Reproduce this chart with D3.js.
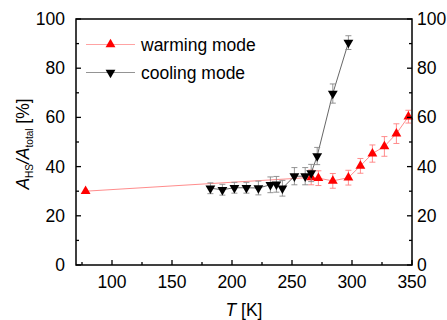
<!DOCTYPE html>
<html>
<head>
<meta charset="utf-8">
<script src="https://cdn.jsdelivr.net/npm/d3@7"></script>
<style>
  body { margin: 0; background: #fff; }
  text { font-family: "Liberation Sans", Arial, sans-serif; }
</style>
</head>
<body>
<svg class="chart"></svg>
<script>
// warming mode (red, up triangles)
var warmT   = [78, 266, 272, 284, 297, 307, 317, 327, 337, 347];
var warmVal = [30, 35.6, 35.3, 34.2, 35.5, 40.3, 45.3, 48.2, 53.4, 60.3];
var warmErr = [0.8, 3, 3, 3, 3, 3, 3.5, 4, 4, 2.6];

// cooling mode (black, down triangles)
var coolT   = [182, 192, 202, 212, 222, 232, 237, 242, 252, 261, 266, 271, 284, 297];
var coolVal = [31.2, 30.6, 31.4, 31.4, 31.3, 32.6, 32.8, 31.2, 36.1, 36.1, 37.4, 44.3, 69.7, 90.4];
var coolErr = [2.2, 2.2, 2.2, 2.2, 2.8, 3.2, 3.2, 3.2, 3.5, 3.5, 3.5, 3.5, 3.9, 2.8];

var xTicks = [100, 150, 200, 250, 300, 350];
var xMinor = [75, 125, 175, 225, 275, 325];
var yTicks = [0, 20, 40, 60, 80, 100];
var yMinor = [10, 30, 50, 70, 90];

var legendNames = ["warming mode", "cooling mode"];

var W = 447, H = 320;
var margin = {left: 76, right: 35, top: 19, bottom: 55};

var x = d3.scaleLinear().domain([70, 350]).range([margin.left, W - margin.right]);
var y = d3.scaleLinear().domain([0, 100]).range([H - margin.bottom, margin.top]);

var svg = d3.select(".chart").attr("width", W).attr("height", H);

function mk(t, v, e) {
  return t.map(function(d, i) { return {t: d, v: v[i], e: e[i]}; });
}
var warm = mk(warmT, warmVal, warmErr);
var cool = mk(coolT, coolVal, coolErr);

var line = d3.line().x(function(d) { return x(d.t); }).y(function(d) { return y(d.v); });

var tri = d3.symbol().type(d3.symbolTriangle).size(42);

// draw one series: line, error bars, markers
function series(data, lineCol, errCol, fill, down) {
  var g = svg.append("g");
  g.append("path").datum(data)
      .attr("d", line)
      .attr("fill", "none")
      .attr("stroke", lineCol)
      .attr("stroke-width", 0.9);

  var eb = g.selectAll(".eb").data(data.filter(function(d) { return d.e > 1; }))
      .enter().append("g")
      .attr("stroke", errCol).attr("stroke-width", 0.9);
  eb.append("line")
      .attr("x1", function(d) { return x(d.t); }).attr("x2", function(d) { return x(d.t); })
      .attr("y1", function(d) { return y(d.v + d.e); }).attr("y2", function(d) { return y(d.v - d.e); });
  [1, -1].forEach(function(s) {
    eb.append("line")
        .attr("x1", function(d) { return x(d.t) - 3; }).attr("x2", function(d) { return x(d.t) + 3; })
        .attr("y1", function(d) { return y(d.v + s * d.e); }).attr("y2", function(d) { return y(d.v + s * d.e); });
  });

  g.selectAll(".m").data(data).enter().append("path")
      .attr("d", tri)
      .attr("fill", fill)
      .attr("transform", function(d) {
        return "translate(" + x(d.t) + "," + y(d.v) + ")" + (down ? " rotate(180)" : "");
      });
}

series(warm, "#ff7f7f", "#ff8080", "#ff0000", false);
series(cool, "#555555", "#888888", "#000000", true);

// axes (ticks pointing inward)
var axG = svg.append("g").attr("fill", "none").attr("stroke", "#000");
function ticks(vals, len, side) {
  vals.forEach(function(v) {
    if (side === "bottom") axG.append("line").attr("x1", x(v)).attr("x2", x(v)).attr("y1", y(0)).attr("y2", y(0) - len);
    if (side === "left") axG.append("line").attr("x1", x(70)).attr("x2", x(70) + len).attr("y1", y(v)).attr("y2", y(v));
    if (side === "right") axG.append("line").attr("x1", x(350)).attr("x2", x(350) - len).attr("y1", y(v)).attr("y2", y(v));
  });
}
ticks(xTicks, 5, "bottom"); ticks(xMinor, 3, "bottom");
ticks(yTicks, 5, "left"); ticks(yMinor, 3, "left");
ticks(yTicks, 5, "right"); ticks(yMinor, 3, "right");
axG.selectAll("line").attr("stroke-width", 1.3);

svg.append("rect")
    .attr("x", x(70)).attr("y", y(100))
    .attr("width", x(350) - x(70)).attr("height", y(0) - y(100))
    .attr("fill", "none").attr("stroke", "#000").attr("stroke-width", 1.5);

var fs = "17.5px";
svg.selectAll(".xl").data(xTicks).enter().append("text")
    .attr("x", function(d) { return x(d); }).attr("y", y(0) + 23)
    .attr("text-anchor", "middle").style("font-size", fs).text(function(d) { return d; });
svg.selectAll(".yl").data(yTicks).enter().append("text")
    .attr("x", x(70) - 11).attr("y", function(d) { return y(d) + 6; })
    .attr("text-anchor", "end").style("font-size", fs).text(function(d) { return d; });
svg.selectAll(".yr").data(yTicks).enter().append("text")
    .attr("x", x(350) + 5).attr("y", function(d) { return y(d) + 6; })
    .attr("text-anchor", "start").style("font-size", fs).text(function(d) { return d; });

// axis titles
var xt = svg.append("text").attr("x", (x(70) + x(350)) / 2).attr("y", 316)
    .attr("text-anchor", "middle").style("font-size", fs);
xt.append("tspan").style("font-style", "italic").text("T");
xt.append("tspan").text(" [K]");

var yt = svg.append("text")
    .attr("transform", "translate(29," + (y(50) + 2) + ") rotate(-90)")
    .attr("text-anchor", "middle").style("font-size", fs);
yt.append("tspan").style("font-style", "italic").text("A");
yt.append("tspan").attr("dy", 4).style("font-size", "10px").text("HS");
yt.append("tspan").attr("dy", -4).style("font-style", "italic").text("/A");
yt.append("tspan").attr("dy", 4).style("font-size", "10px").text("total");
yt.append("tspan").attr("dy", -4).text(" [%]");

// legend
var leg = svg.append("g");
[["#ff9999", "#ff0000", false], ["#888888", "#000000", true]].forEach(function(s, i) {
  var ly = 44.5 + i * 28;
  leg.append("line").attr("x1", 86).attr("x2", 135).attr("y1", ly).attr("y2", ly)
      .attr("stroke", s[0]).attr("stroke-width", 0.9);
  leg.append("path").attr("d", tri).attr("fill", s[1])
      .attr("transform", "translate(110.5," + ly + ")" + (s[2] ? " rotate(180)" : ""));
  leg.append("text").attr("x", 141).attr("y", ly + 6).style("font-size", fs).text(legendNames[i]);
});
</script>
</body>
</html>
